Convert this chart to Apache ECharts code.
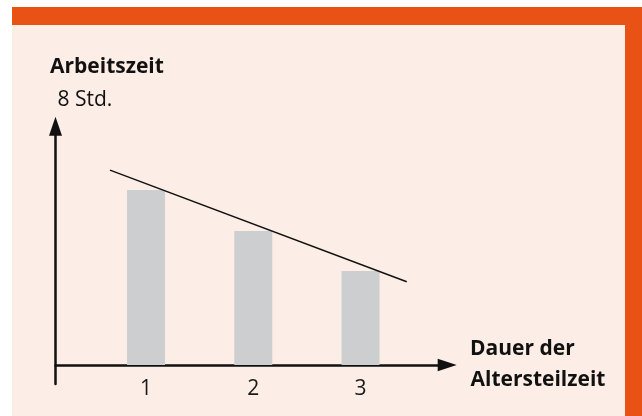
<!DOCTYPE html>
<html>
<head>
<meta charset="utf-8">
<script src="https://cdn.jsdelivr.net/npm/echarts@6/dist/echarts.min.js"></script>
<style>
html,body{margin:0;padding:0;background:#ffffff;}
#chart{width:642px;height:416px;}
</style>
</head>
<body>
<div id="chart"></div>
<script>
// ---- data ----
const categories = [1, 2, 3];
const tickLabels = ['1', '2', '3'];
const hours = [5.86, 4.49, 3.15];
const trendX = [0.664, 3.431];
const trendY = [6.53, 2.79];
const yMaxLabel = '8 Std.';
const yTitle = 'Arbeitszeit';
const xTitleLines = ['Dauer der', 'Altersteilzeit'];

const FONT = '"Open Sans", "DejaVu Sans", sans-serif';
const chart = echarts.init(document.getElementById('chart'), null, {renderer: 'canvas'});

const barData = categories.map((c, i) => [c, hours[i]]);
const trendData = trendX.map((x, i) => [x, trendY[i]]);

chart.setOption({
  backgroundColor: '#ffffff',
  animation: false,
  grid: {left: 55.5, right: 194.8, top: 126.2, bottom: 32, containLabel: false},
  xAxis: {
    type: 'value',
    min: 0.156,
    max: 3.808,
    axisLine: {
      show: true, onZero: true,
      symbol: ['none', 'triangle'],
      symbolSize: [12.5, 19],
      lineStyle: {color: '#111111', width: 2.5}
    },
    axisTick: {show: false},
    splitLine: {show: false},
    axisLabel: {
      customValues: categories,
      formatter: function (v) { const k = categories.indexOf(v); return k >= 0 ? tickLabels[k] : ''; },
      fontFamily: FONT, fontSize: 21, color: '#1a1a1a', margin: 5,
      verticalAlign: 'middle', lineHeight: 21
    }
  },
  yAxis: {
    type: 'value',
    min: -0.636,
    max: 8,
    axisLine: {
      show: true, onZero: false,
      symbol: ['none', 'triangle'],
      symbolSize: [13, 19],
      lineStyle: {color: '#111111', width: 2.5}
    },
    axisTick: {show: false},
    splitLine: {show: false},
    axisLabel: {show: false}
  },
  series: [
    {
      type: 'bar',
      data: barData,
      barWidth: 38,
      itemStyle: {color: '#cdcecf'},
      z: 1
    },
    {
      type: 'line',
      data: trendData,
      symbol: 'none',
      lineStyle: {color: '#111111', width: 1.5},
      z: 3
    }
  ],
  graphic: [
    {type: 'rect', z: -100, shape: {x: 12, y: 7, width: 630, height: 409}, style: {fill: '#e85214'}, silent: true},
    {type: 'rect', z: -99, shape: {x: 12, y: 25, width: 613, height: 391}, style: {fill: '#fcede6'}, silent: true},
    {type: 'text', x: 50, y: 67, style: {text: yTitle, font: 'bold 21px ' + FONT, fill: '#111111', verticalAlign: 'middle', align: 'left'}},
    {type: 'text', x: 57.5, y: 100, style: {text: yMaxLabel, font: '21px ' + FONT, fill: '#111111', verticalAlign: 'middle', align: 'left'}},
    {type: 'text', x: 470, y: 349.3, style: {text: xTitleLines[0], font: 'bold 21px ' + FONT, fill: '#111111', verticalAlign: 'middle', align: 'left'}},
    {type: 'text', x: 470.5, y: 379.7, style: {text: xTitleLines[1], font: 'bold 21px ' + FONT, fill: '#111111', verticalAlign: 'middle', align: 'left'}}
  ]
});
</script>
</body>
</html>
